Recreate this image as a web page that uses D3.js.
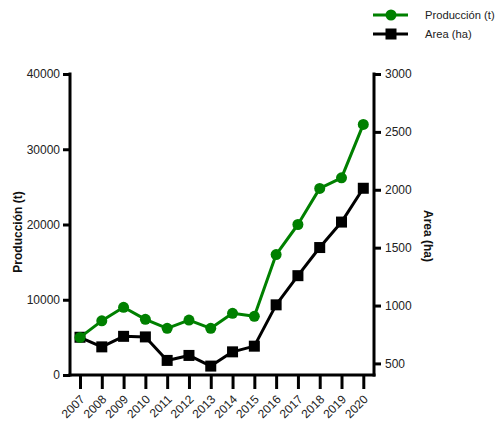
<!DOCTYPE html>
<html>
<head>
<meta charset="utf-8">
<script src="https://cdn.jsdelivr.net/npm/d3@7"></script>
<style>
  html, body { margin: 0; padding: 0; background: #fff; }
  svg { display: block; font-family: "Liberation Sans", Arial, sans-serif; }
</style>
</head>
<body>
<svg id="chart" width="496" height="421"></svg>
<script>
// Years on the category axis
const years = ["2007","2008","2009","2010","2011","2012","2013","2014","2015","2016","2017","2018","2019","2020"];
// Production in tonnes (left axis)
const produccion = [5000, 7200, 9000, 7400, 6200, 7300, 6200, 8200, 7800, 16000, 20000, 24800, 26200, 33300];
// Cultivated area in hectares (right axis)
const area = [726, 643, 734, 729, 526, 569, 477, 600, 649, 1006, 1258, 1501, 1721, 2013];
// Tick values
const leftTicks = [0, 10000, 20000, 30000, 40000];
const rightTicks = [500, 1000, 1500, 2000, 2500, 3000];

const GREEN = "#008000";
const svg = d3.select("#chart");

const x0 = 70, x1 = 374, yTop = 74, yBot = 375;

const x = d3.scalePoint().domain(years).range([80, 363.3]);
const yL = d3.scaleLinear().domain([0, 40000]).range([yBot, yTop]);
const yR = d3.scaleLinear().domain([400, 3000]).range([yBot, yTop]);

// Left axis
const gL = svg.append("g").attr("transform", `translate(${x0},0)`)
  .call(d3.axisLeft(yL).tickValues(leftTicks).tickSize(7).tickPadding(3).tickFormat(d3.format("d")));
// Right axis
const gR = svg.append("g").attr("transform", `translate(${x1},0)`)
  .call(d3.axisRight(yR).tickValues(rightTicks).tickSize(7).tickPadding(4).tickFormat(d3.format("d")));
// Bottom axis
const gB = svg.append("g").attr("transform", `translate(0,${yBot})`)
  .call(d3.axisBottom(x).tickSize(14).tickPadding(4));

[gL, gR, gB].forEach(g => {
  g.select(".domain").remove();
  g.selectAll(".tick line").attr("stroke", "#000").attr("stroke-width", 3);
  g.selectAll(".tick text").attr("fill", "#222").attr("font-size", 12)
    .attr("font-family", "'Liberation Sans', Arial, sans-serif");
});

gB.selectAll(".tick text")
  .attr("text-anchor", "end")
  .attr("dy", null)
  .attr("y", 0)
  .attr("transform", "translate(5,25) rotate(-45)");

// Axis lines
svg.append("line").attr("x1", x0).attr("x2", x0).attr("y1", yTop - 1.5).attr("y2", yBot + 1.5)
  .attr("stroke", "#000").attr("stroke-width", 3);
svg.append("line").attr("x1", x1).attr("x2", x1).attr("y1", yTop - 1.5).attr("y2", yBot + 1.5)
  .attr("stroke", "#000").attr("stroke-width", 3);
svg.append("line").attr("x1", x0 - 1.5).attr("x2", x1 + 1.5).attr("y1", yBot).attr("y2", yBot)
  .attr("stroke", "#000").attr("stroke-width", 3);

// Area series (black squares)
const lineR = d3.line().x((d, i) => x(years[i])).y(d => yR(d));
svg.append("path").datum(area).attr("d", lineR)
  .attr("fill", "none").attr("stroke", "#000").attr("stroke-width", 3).attr("stroke-linejoin", "round");
svg.selectAll("rect.area").data(area).join("rect").attr("class", "area")
  .attr("x", (d, i) => x(years[i]) - 5.5).attr("y", d => yR(d) - 5.5)
  .attr("width", 11).attr("height", 11).attr("fill", "#000");

// Production series (green circles)
const lineL = d3.line().x((d, i) => x(years[i])).y(d => yL(d));
svg.append("path").datum(produccion).attr("d", lineL)
  .attr("fill", "none").attr("stroke", GREEN).attr("stroke-width", 3).attr("stroke-linejoin", "round");
svg.selectAll("circle.prod").data(produccion).join("circle").attr("class", "prod")
  .attr("cx", (d, i) => x(years[i])).attr("cy", d => yL(d))
  .attr("r", 5.5).attr("fill", GREEN);

// Axis titles
svg.append("text").attr("transform", "translate(22,232) rotate(-90)")
  .attr("text-anchor", "middle").attr("font-size", 12).attr("font-weight", "bold")
  .attr("fill", "#111").text("Producción (t)");
svg.append("text").attr("transform", "translate(424,236) rotate(90)")
  .attr("text-anchor", "middle").attr("font-size", 12).attr("font-weight", "bold")
  .attr("fill", "#111").text("Area (ha)");

// Legend
const legend = [
  { label: "Producción (t)", color: GREEN, shape: "circle", y: 15 },
  { label: "Area (ha)", color: "#000", shape: "square", y: 34 }
];
legend.forEach(l => {
  svg.append("line").attr("x1", 373).attr("x2", 408).attr("y1", l.y).attr("y2", l.y)
    .attr("stroke", l.color).attr("stroke-width", 3);
  if (l.shape === "circle") {
    svg.append("circle").attr("cx", 391).attr("cy", l.y).attr("r", 5.5).attr("fill", l.color);
  } else {
    svg.append("rect").attr("x", 385.5).attr("y", l.y - 5.5).attr("width", 11).attr("height", 11).attr("fill", l.color);
  }
  svg.append("text").attr("x", 425).attr("y", l.y + 4).attr("font-size", 11.2)
    .attr("fill", "#222").text(l.label);
});
</script>
</body>
</html>
